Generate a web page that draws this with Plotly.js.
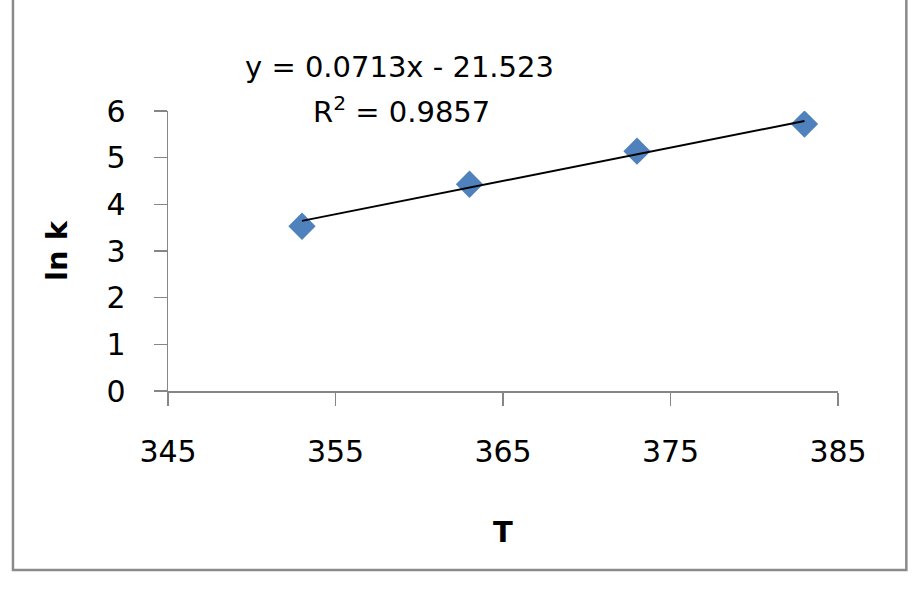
<!DOCTYPE html>
<html>
<head>
<meta charset="utf-8">
<script src="https://cdn.plot.ly/plotly-3.0.1.min.js"></script>
<style>
  html, body { margin: 0; padding: 0; background: #fff; }
  #plot { width: 921px; height: 603px; }
</style>
</head>
<body>
<div id="plot"></div>
<script>
// temperatures and ln k
var temps = [353, 363, 373, 383];
var lnK = [3.53, 4.43, 5.14, 5.72];

// linear trendline as printed on the chart
var slope = 0.0713;
var intercept = -21.523;
var rSquared = 0.9857;

var xTicks = [345, 355, 365, 375, 385];
var yTicks = [0, 1, 2, 3, 4, 5, 6];

var fitX = [temps[0], temps[temps.length - 1]];
var fitY = fitX.map(function (t) { return slope * t + intercept; });

var axisGrey = '#868686';
var font = 'DejaVu Sans, sans-serif';

var data = [
  {
    type: 'scatter',
    mode: 'markers',
    x: temps,
    y: lnK,
    marker: { symbol: 'diamond', size: 21, color: '#4F81BD' },
    hoverinfo: 'x+y'
  },
  {
    type: 'scatter',
    mode: 'lines',
    x: fitX,
    y: fitY,
    line: { color: '#000000', width: 2 },
    hoverinfo: 'skip'
  }
];

var layout = {
  width: 921,
  height: 603,
  margin: { l: 168, r: 83, t: 111, b: 212 },
  paper_bgcolor: '#ffffff',
  plot_bgcolor: '#ffffff',
  showlegend: false,
  font: { family: font, size: 30, color: '#000000' },
  xaxis: {
    range: [345, 385],
    tickvals: xTicks,
    showgrid: false,
    zeroline: false,
    showline: true,
    linecolor: axisGrey,
    linewidth: 1.5,
    ticks: 'outside',
    ticklen: 13,
    tickwidth: 1.5,
    tickcolor: axisGrey,
    ticklabelstandoff: 20,
    tickfont: { family: font, size: 30, color: '#000000' },
    title: { text: 'T', font: { family: font, size: 29, color: '#000000', weight: 'bold' }, standoff: 54 }
  },
  yaxis: {
    range: [0, 6],
    tickvals: yTicks,
    showgrid: false,
    zeroline: false,
    showline: true,
    linecolor: axisGrey,
    linewidth: 1.5,
    ticks: 'outside',
    ticklen: 13,
    tickwidth: 1.5,
    tickcolor: axisGrey,
    ticklabelstandoff: 22,
    tickfont: { family: font, size: 30, color: '#000000' },
    title: { text: 'ln k', font: { family: font, size: 29, color: '#000000', weight: 'bold' }, standoff: 30 }
  },
  annotations: [
    {
      xref: 'paper', yref: 'paper',
      x: 0.345, y: 1.157,
      xanchor: 'center', yanchor: 'middle',
      showarrow: false,
      text: 'y = ' + slope + 'x - ' + Math.abs(intercept),
      font: { family: font, size: 29, color: '#000000' }
    },
    {
      xref: 'paper', yref: 'paper',
      x: 0.348, y: 1.004,
      xanchor: 'center', yanchor: 'middle',
      showarrow: false,
      text: 'R<sup>2</sup> = ' + rSquared,
      font: { family: font, size: 29, color: '#000000' }
    }
  ],
  shapes: [
    {
      // outer chart frame
      type: 'rect',
      xref: 'paper', yref: 'paper',
      x0: -0.2314, x1: 1.102,
      y0: -0.639, y1: 1.6,
      line: { color: '#8a8a8a', width: 2.5 },
      fillcolor: 'rgba(0,0,0,0)',
      layer: 'below'
    }
  ]
};

Plotly.newPlot(document.getElementById('plot'), data, layout, { displayModeBar: false, staticPlot: true });
</script>
</body>
</html>
